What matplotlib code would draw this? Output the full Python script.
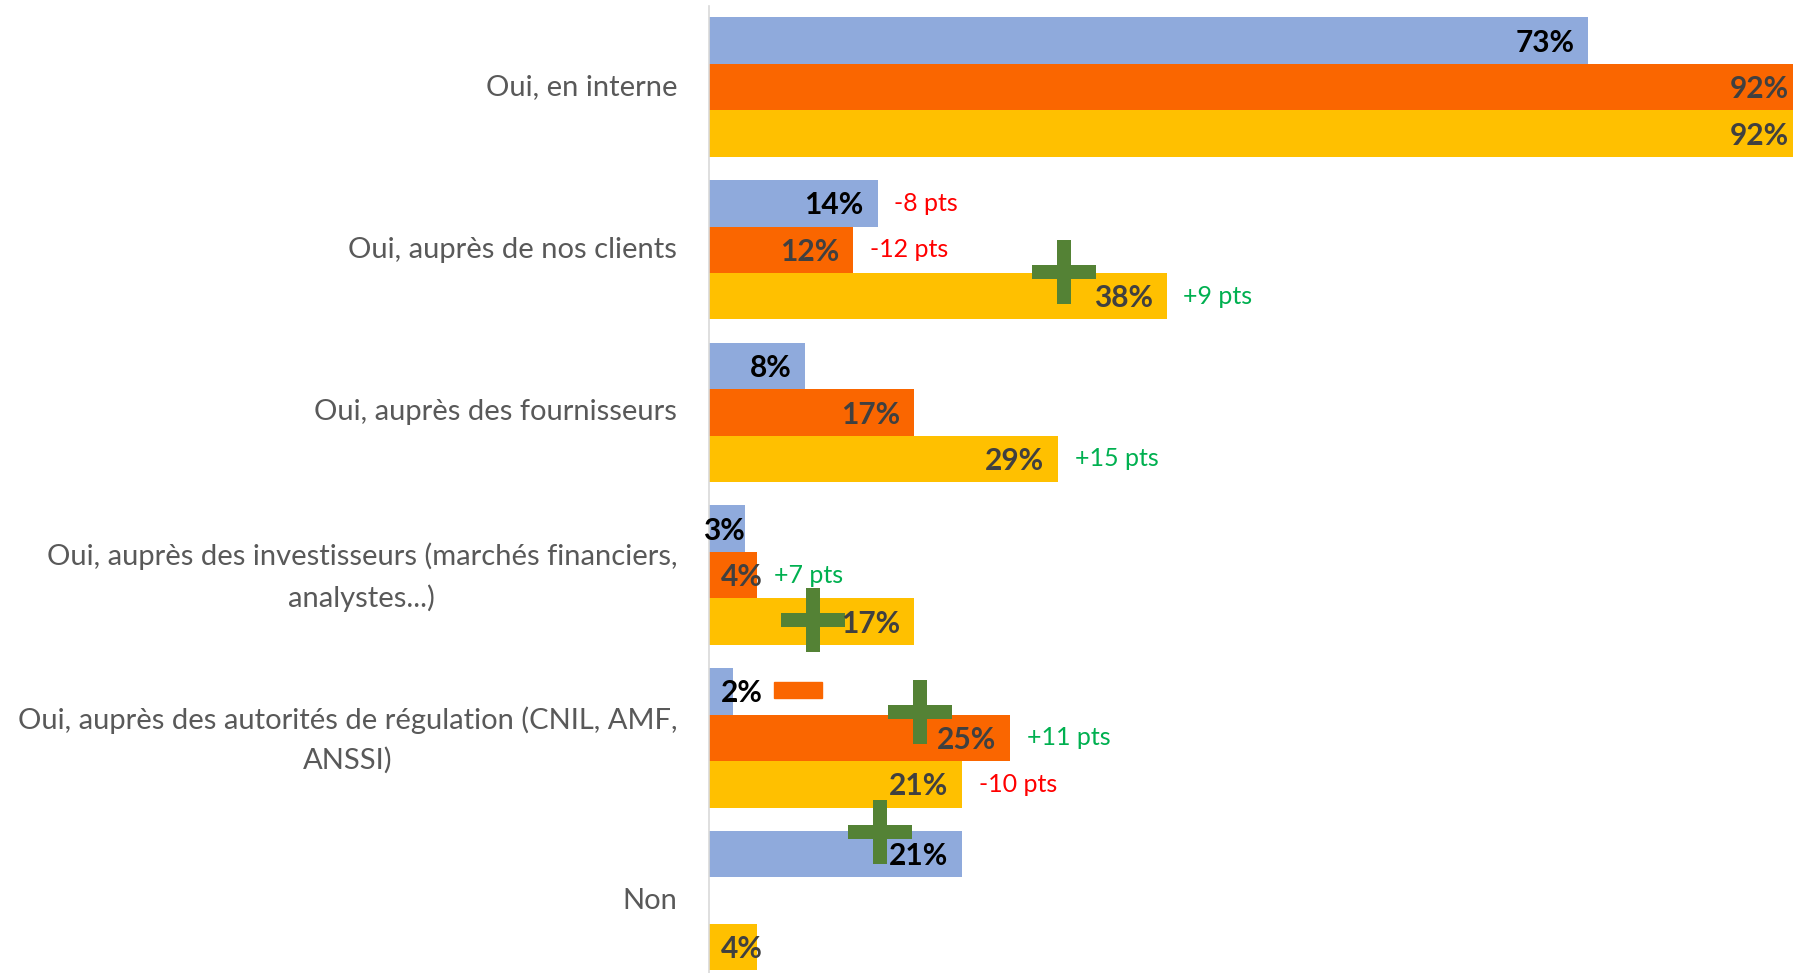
import matplotlib.pyplot as plt
from matplotlib.path import Path
from matplotlib.patches import Rectangle

plt.rcParams['font.family'] = ['Lato', 'DejaVu Sans']

# Categories (top to bottom) and the three series (values in %)
categories = [
    "Oui, en interne",
    "Oui, auprès de nos clients",
    "Oui, auprès des fournisseurs",
    "Oui, auprès des investisseurs (marchés financiers,\nanalystes...)",
    "Oui, auprès des autorités de régulation (CNIL, AMF,\nANSSI)",
    "Non",
]
serie_bleue = [73, 14, 8, 3, 2, 21]
serie_orange = [92, 12, 17, 4, 25, 0]
serie_jaune = [92, 38, 29, 17, 21, 4]

# evolution labels: (category, series, text)
evolutions = [
    (1, 0, "-8 pts"),
    (1, 1, "-12 pts"),
    (1, 2, "+9 pts"),
    (2, 2, "+15 pts"),
    (3, 1, "+7 pts"),
    (4, 1, "+11 pts"),
    (4, 2, "-10 pts"),
]

series = [serie_bleue, serie_orange, serie_jaune]
colors = ['#8FAADC', '#FA6600', '#FFC000']
label_colors = ['#000000', '#404040', '#404040']

XMAX = 90

fig = plt.figure(figsize=(17.93, 9.73), dpi=100)
ax = fig.add_axes([0.3954, -0.00915, 0.6046, 1.00329])

h = 1 / 3.5
offsets = [-h, 0, h]

for s, vals in enumerate(series):
    ys = [i + offsets[s] for i in range(len(categories))]
    ax.barh(ys, vals, height=h, color=colors[s], zorder=2)

# decorations: green crosses and the small orange dash
cross = Path([(-0.117, 0.5), (0.117, 0.5), (0.117, 0.117), (0.5, 0.117),
              (0.5, -0.117), (0.117, -0.117), (0.117, -0.5), (-0.117, -0.5),
              (-0.117, -0.117), (-0.5, -0.117), (-0.5, 0.117), (-0.117, 0.117),
              (-0.117, 0.5)], closed=True)
cross_pos = [(29.5, 1.137), (8.6, 3.276), (17.55, 3.843), (14.2, 4.576)]
for cx, cy in cross_pos:
    ax.plot(cx, cy, marker=cross, markersize=46, color='#548235',
            markeredgewidth=0, linestyle='none', zorder=3, clip_on=False)
ax.add_patch(Rectangle((5.44, 3.657), 3.95, 0.098, color='#FA6600', zorder=3))

# value labels (inside end), with a few manual placements for small bars
label_right = {(3, 0): 3.0, (3, 1): 4.5, (4, 0): 4.5, (5, 2): 4.5}
for s, vals in enumerate(series):
    for i, v in enumerate(vals):
        if v == 0:
            continue
        y = i + offsets[s]
        if (i, s) in label_right:
            xy, dx = (label_right[(i, s)], y), 0
        elif v > XMAX:
            # bar runs past the edge: keep the label inside the picture
            xy, dx = (XMAX, y), -3
        else:
            xy, dx = (v, y), -10
        ax.annotate(f"{v}%", xy, xytext=(dx, -1.5), textcoords='offset points',
                    ha='right', va='center', fontsize=21.5, fontweight='bold',
                    color=label_colors[s], zorder=4, annotation_clip=False)

for i, s, txt in evolutions:
    v = series[s][i]
    col = '#00B050' if txt.startswith('+') else '#FF0000'
    ax.annotate(txt, (v, i + offsets[s]), xytext=(12, 0), textcoords='offset points',
                ha='left', va='center', fontsize=18, color=col, zorder=4)

# category labels, right aligned against the axis, lines centred
for i, cat in enumerate(categories):
    nlines = cat.count('\n') + 1
    ax.annotate(cat, (0, i), xycoords=('axes fraction', 'data'),
                xytext=(-23, -1.5 * (nlines - 1)), textcoords='offset points',
                ha='right', va='center', multialignment='center',
                fontsize=21, color='#595959', linespacing=1.6,
                annotation_clip=False)

ax.set_xlim(0, XMAX)
ax.set_ylim(5.5, -0.5)
ax.set_xticks([])
ax.set_yticks([])
for side in ['top', 'right', 'bottom']:
    ax.spines[side].set_visible(False)
ax.spines['left'].set_color('#D9D9D9')
ax.spines['left'].set_linewidth(1.2)

fig.savefig('out.png', dpi=100)
